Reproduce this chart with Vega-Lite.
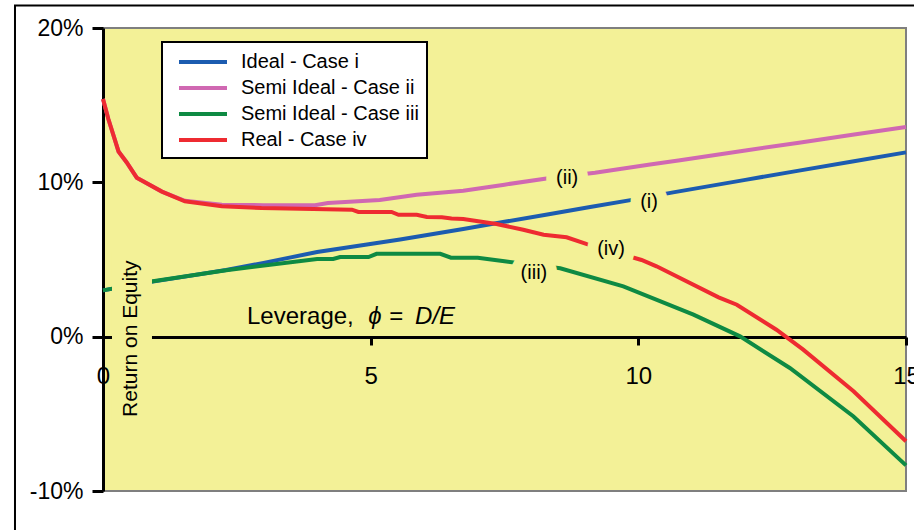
{
  "$schema": "https://vega.github.io/schema/vega-lite/v6.json",
  "width": 803,
  "height": 463,
  "autosize": {"type": "none"},
  "padding": {"left": 103, "top": 28, "right": 8, "bottom": 39},
  "background": "white",
  "config": {
    "font": "Liberation Sans",
    "view": {"fill": "#f3f197", "stroke": "#7f7f7f", "strokeWidth": 2},
    "axis": {"grid": false}
  },
  "datasets": {
    "lines": [
      {"s": "Ideal - Case i", "x": 0, "y": 0.030},
      {"s": "Ideal - Case i", "x": 0.9, "y": 0.0355},
      {"s": "Ideal - Case i", "x": 2.3, "y": 0.0432},
      {"s": "Ideal - Case i", "x": 3.0, "y": 0.0478},
      {"s": "Ideal - Case i", "x": 4.0, "y": 0.0548},
      {"s": "Ideal - Case i", "x": 4.9, "y": 0.0596},
      {"s": "Ideal - Case i", "x": 5.55, "y": 0.0629},
      {"s": "Ideal - Case i", "x": 6.73, "y": 0.0698},
      {"s": "Ideal - Case i", "x": 7.5, "y": 0.0744},
      {"s": "Ideal - Case i", "x": 8.3, "y": 0.0792},
      {"s": "Ideal - Case i", "x": 9.1, "y": 0.0840},
      {"s": "Ideal - Case i", "x": 9.91, "y": 0.0888},
      {"s": "Ideal - Case i", "x": 10.65, "y": 0.0935},
      {"s": "Ideal - Case i", "x": 12.0, "y": 0.1016},
      {"s": "Ideal - Case i", "x": 13.0, "y": 0.1076},
      {"s": "Ideal - Case i", "x": 14.0, "y": 0.1135},
      {"s": "Ideal - Case i", "x": 15.0, "y": 0.1194},
      {"s": "Semi Ideal - Case ii", "x": 0, "y": 0.154},
      {"s": "Semi Ideal - Case ii", "x": 0.1, "y": 0.141},
      {"s": "Semi Ideal - Case ii", "x": 0.29, "y": 0.120},
      {"s": "Semi Ideal - Case ii", "x": 0.44, "y": 0.113},
      {"s": "Semi Ideal - Case ii", "x": 0.63, "y": 0.103},
      {"s": "Semi Ideal - Case ii", "x": 1.1, "y": 0.094},
      {"s": "Semi Ideal - Case ii", "x": 1.53, "y": 0.0880},
      {"s": "Semi Ideal - Case ii", "x": 2.22, "y": 0.0855},
      {"s": "Semi Ideal - Case ii", "x": 3.0, "y": 0.0852},
      {"s": "Semi Ideal - Case ii", "x": 3.96, "y": 0.0852},
      {"s": "Semi Ideal - Case ii", "x": 4.2, "y": 0.0866},
      {"s": "Semi Ideal - Case ii", "x": 5.17, "y": 0.0885},
      {"s": "Semi Ideal - Case ii", "x": 5.86, "y": 0.0920},
      {"s": "Semi Ideal - Case ii", "x": 6.73, "y": 0.0945},
      {"s": "Semi Ideal - Case ii", "x": 7.5, "y": 0.0985},
      {"s": "Semi Ideal - Case ii", "x": 8.35, "y": 0.1028},
      {"s": "Semi Ideal - Case ii", "x": 9.19, "y": 0.1062},
      {"s": "Semi Ideal - Case ii", "x": 10.22, "y": 0.1115},
      {"s": "Semi Ideal - Case ii", "x": 10.78, "y": 0.1143},
      {"s": "Semi Ideal - Case ii", "x": 12.0, "y": 0.1206},
      {"s": "Semi Ideal - Case ii", "x": 13.0, "y": 0.1257},
      {"s": "Semi Ideal - Case ii", "x": 14.0, "y": 0.1308},
      {"s": "Semi Ideal - Case ii", "x": 15.0, "y": 0.1359},
      {"s": "Semi Ideal - Case iii", "x": 0, "y": 0.030},
      {"s": "Semi Ideal - Case iii", "x": 0.9, "y": 0.0358},
      {"s": "Semi Ideal - Case iii", "x": 2.3, "y": 0.0430},
      {"s": "Semi Ideal - Case iii", "x": 4.0, "y": 0.0503},
      {"s": "Semi Ideal - Case iii", "x": 4.3, "y": 0.0503},
      {"s": "Semi Ideal - Case iii", "x": 4.43, "y": 0.0516},
      {"s": "Semi Ideal - Case iii", "x": 4.96, "y": 0.0516},
      {"s": "Semi Ideal - Case iii", "x": 5.11, "y": 0.0537},
      {"s": "Semi Ideal - Case iii", "x": 6.3, "y": 0.0537},
      {"s": "Semi Ideal - Case iii", "x": 6.5, "y": 0.0512},
      {"s": "Semi Ideal - Case iii", "x": 7.0, "y": 0.0512},
      {"s": "Semi Ideal - Case iii", "x": 7.5, "y": 0.0488},
      {"s": "Semi Ideal - Case iii", "x": 8.54, "y": 0.0443},
      {"s": "Semi Ideal - Case iii", "x": 9.72, "y": 0.0326},
      {"s": "Semi Ideal - Case iii", "x": 11.03, "y": 0.0143},
      {"s": "Semi Ideal - Case iii", "x": 11.9, "y": 0.0002},
      {"s": "Semi Ideal - Case iii", "x": 12.83, "y": -0.0203},
      {"s": "Semi Ideal - Case iii", "x": 14.02, "y": -0.0517},
      {"s": "Semi Ideal - Case iii", "x": 15.0, "y": -0.0834},
      {"s": "Real - Case iv", "x": 0, "y": 0.154},
      {"s": "Real - Case iv", "x": 0.1, "y": 0.141},
      {"s": "Real - Case iv", "x": 0.29, "y": 0.120},
      {"s": "Real - Case iv", "x": 0.44, "y": 0.113},
      {"s": "Real - Case iv", "x": 0.63, "y": 0.103},
      {"s": "Real - Case iv", "x": 1.1, "y": 0.094},
      {"s": "Real - Case iv", "x": 1.53, "y": 0.0877},
      {"s": "Real - Case iv", "x": 2.22, "y": 0.0845},
      {"s": "Real - Case iv", "x": 2.96, "y": 0.0834},
      {"s": "Real - Case iv", "x": 4.65, "y": 0.0823},
      {"s": "Real - Case iv", "x": 4.77, "y": 0.0808},
      {"s": "Real - Case iv", "x": 5.39, "y": 0.0808},
      {"s": "Real - Case iv", "x": 5.52, "y": 0.0790},
      {"s": "Real - Case iv", "x": 5.86, "y": 0.0790},
      {"s": "Real - Case iv", "x": 6.05, "y": 0.0775},
      {"s": "Real - Case iv", "x": 6.33, "y": 0.0773},
      {"s": "Real - Case iv", "x": 6.51, "y": 0.0765},
      {"s": "Real - Case iv", "x": 6.73, "y": 0.0763},
      {"s": "Real - Case iv", "x": 7.35, "y": 0.0730},
      {"s": "Real - Case iv", "x": 7.85, "y": 0.0693},
      {"s": "Real - Case iv", "x": 8.23, "y": 0.0660},
      {"s": "Real - Case iv", "x": 8.66, "y": 0.0644},
      {"s": "Real - Case iv", "x": 9.04, "y": 0.0600},
      {"s": "Real - Case iv", "x": 10.06, "y": 0.0497},
      {"s": "Real - Case iv", "x": 10.34, "y": 0.0456},
      {"s": "Real - Case iv", "x": 11.5, "y": 0.0255},
      {"s": "Real - Case iv", "x": 11.84, "y": 0.0207},
      {"s": "Real - Case iv", "x": 12.58, "y": 0.0045},
      {"s": "Real - Case iv", "x": 13.08, "y": -0.0084},
      {"s": "Real - Case iv", "x": 14.02, "y": -0.0354},
      {"s": "Real - Case iv", "x": 15.0, "y": -0.0678}
    ],
    "labels": [
      {"label": "(ii)", "x": 8.67, "y": 0.103},
      {"label": "(i)", "x": 10.2, "y": 0.0875},
      {"label": "(iv)", "x": 9.49, "y": 0.057},
      {"label": "(iii)", "x": 8.05, "y": 0.0415}
    ]
  },
  "layer": [
    {
      "data": {"name": "lines"},
      "mark": {"type": "line", "strokeWidth": 4},
      "encoding": {
        "x": {
          "field": "x", "type": "quantitative",
          "scale": {"domain": [0, 15], "nice": false, "zero": false},
          "axis": {
            "title": null, "offset": -154, "values": [0, 5, 10, 15], "format": "d",
            "domainColor": "black", "domainWidth": 3,
            "tickColor": "black", "tickWidth": 3, "tickSize": 8,
            "labelFontSize": 24, "labelColor": "black", "labelPadding": 19,
            "labelFlush": false, "labelOverlap": false
          }
        },
        "y": {
          "field": "y", "type": "quantitative",
          "scale": {"domain": [-0.1, 0.2], "nice": false, "zero": false},
          "axis": {
            "title": null, "values": [-0.1, 0, 0.1, 0.2],
            "labelExpr": "(datum.value < 0 ? '-' : '') + format(abs(datum.value) * 100, 'd') + '%'",
            "domainColor": "black", "domainWidth": 3,
            "tickColor": "black", "tickWidth": 3, "tickSize": 11,
            "labelFontSize": 23, "labelColor": "black", "labelPadding": 9
          }
        },
        "color": {
          "field": "s", "type": "nominal",
          "scale": {
            "domain": ["Ideal - Case i", "Semi Ideal - Case ii", "Semi Ideal - Case iii", "Real - Case iv"],
            "range": ["#1c5cb0", "#d068b2", "#0e8a43", "#ee2b31"]
          },
          "legend": {
            "title": null, "orient": "none", "legendX": 59, "legendY": 14,
            "fillColor": "white", "strokeColor": "black", "padding": 8,
            "labelFontSize": 20, "labelColor": "black", "labelLimit": 400,
            "symbolType": "M-0.3,0H4.5", "symbolSize": 400, "symbolStrokeWidth": 4,
            "labelOffset": 47, "rowPadding": 4,
            "encode": {"legend": {"update": {"strokeWidth": {"value": 2}}}}
          }
        }
      }
    },
    {
      "data": {"values": [{}]},
      "mark": {"type": "rect", "fill": "transparent", "stroke": "black", "strokeWidth": 2},
      "encoding": {
        "x": {"datum": -1.644, "type": "quantitative", "scale": {"domain": [0, 15]}},
        "x2": {"datum": 16.5},
        "y": {"datum": 0.2145, "type": "quantitative", "scale": {"domain": [-0.1, 0.2]}},
        "y2": {"datum": -0.16}
      }
    },
    {
      "data": {"values": [{}]},
      "mark": {"type": "rect", "fill": "#f3f197"},
      "encoding": {
        "x": {"datum": 0.168, "type": "quantitative", "scale": {"domain": [0, 15]}},
        "x2": {"datum": 0.915},
        "y": {"datum": 0.055, "type": "quantitative", "scale": {"domain": [-0.1, 0.2]}},
        "y2": {"datum": -0.058}
      }
    },
    {
      "data": {"values": [{}]},
      "mark": {"type": "text", "text": "Return on Equity", "angle": 270, "align": "center", "baseline": "middle", "fontSize": 21, "color": "black"},
      "encoding": {
        "x": {"datum": 0.52, "type": "quantitative", "scale": {"domain": [0, 15]}},
        "y": {"datum": -0.0013, "type": "quantitative", "scale": {"domain": [-0.1, 0.2]}}
      }
    },
    {
      "data": {"values": [{}]},
      "mark": {"type": "text", "text": "Leverage,", "align": "left", "baseline": "alphabetic", "fontSize": 24, "color": "black"},
      "encoding": {
        "x": {"datum": 2.69, "type": "quantitative", "scale": {"domain": [0, 15]}},
        "y": {"datum": 0.0084, "type": "quantitative", "scale": {"domain": [-0.1, 0.2]}}
      }
    },
    {
      "data": {"values": [{}]},
      "mark": {"type": "text", "text": "ϕ", "align": "center", "baseline": "alphabetic", "fontSize": 24, "fontStyle": "italic", "color": "black"},
      "encoding": {
        "x": {"datum": 5.08, "type": "quantitative", "scale": {"domain": [0, 15]}},
        "y": {"datum": 0.0084, "type": "quantitative", "scale": {"domain": [-0.1, 0.2]}}
      }
    },
    {
      "data": {"values": [{}]},
      "mark": {"type": "text", "text": "=", "align": "center", "baseline": "alphabetic", "fontSize": 24, "color": "black"},
      "encoding": {
        "x": {"datum": 5.48, "type": "quantitative", "scale": {"domain": [0, 15]}},
        "y": {"datum": 0.0084, "type": "quantitative", "scale": {"domain": [-0.1, 0.2]}}
      }
    },
    {
      "data": {"values": [{}]},
      "mark": {"type": "text", "text": "D/E", "align": "left", "baseline": "alphabetic", "fontSize": 24, "fontStyle": "italic", "color": "black"},
      "encoding": {
        "x": {"datum": 5.83, "type": "quantitative", "scale": {"domain": [0, 15]}},
        "y": {"datum": 0.0084, "type": "quantitative", "scale": {"domain": [-0.1, 0.2]}}
      }
    },
    {
      "data": {"name": "labels"},
      "mark": {"type": "text", "align": "center", "baseline": "middle", "fontSize": 20, "fill": "#f3f197", "stroke": "#f3f197", "strokeWidth": 22, "strokeJoin": "round"},
      "encoding": {
        "x": {"field": "x", "type": "quantitative", "scale": {"domain": [0, 15]}},
        "y": {"field": "y", "type": "quantitative", "scale": {"domain": [-0.1, 0.2]}},
        "text": {"field": "label"}
      }
    },
    {
      "data": {"name": "labels"},
      "mark": {"type": "text", "align": "center", "baseline": "middle", "fontSize": 20, "fill": "black"},
      "encoding": {
        "x": {"field": "x", "type": "quantitative", "scale": {"domain": [0, 15]}},
        "y": {"field": "y", "type": "quantitative", "scale": {"domain": [-0.1, 0.2]}},
        "text": {"field": "label"}
      }
    }
  ]
}
